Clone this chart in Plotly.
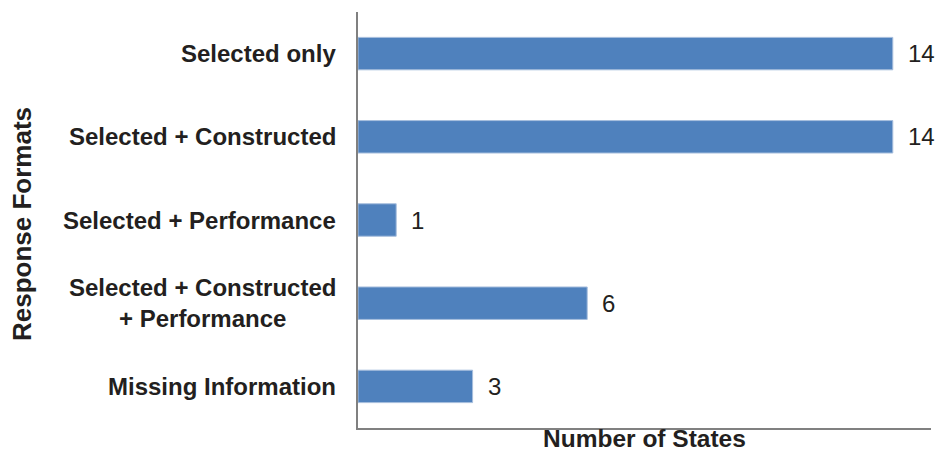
import plotly.graph_objects as go

# Response formats used in state assessments
categories = [
    "Selected only",
    "Selected + Constructed",
    "Selected + Performance",
    "Selected + Constructed<br>+ Performance",
    "Missing Information",
]
states = [14, 14, 1, 6, 3]

x_title = "Number of States"
y_title = "Response Formats"

BAR = "#4F81BD"
TEXT = "#231F20"
AXIS = "#808080"
FONT = "Liberation Sans, Arial, sans-serif"

fig = go.Figure(
    go.Bar(
        x=states,
        y=categories,
        orientation="h",
        marker=dict(color=BAR, line=dict(color="#A7BEDD", width=1)),
        hoverinfo="x+y",
    )
)

# category labels, centred line by line
for cat in categories:
    fig.add_annotation(
        x=0, xref="paper", y=cat, yref="y",
        text=cat, showarrow=False,
        xanchor="right", xshift=-20, align="center",
        font=dict(family=FONT, size=24, color=TEXT, weight="bold"),
    )

# value labels at bar ends
for cat, v in zip(categories, states):
    fig.add_annotation(
        x=v, xref="x", y=cat, yref="y",
        text=str(v), showarrow=False,
        xanchor="left", xshift=13,
        font=dict(family=FONT, size=24, color=TEXT),
    )

# axis titles
fig.add_annotation(
    x=0.5, xref="paper", y=0, yref="paper", yanchor="top", yshift=4,
    text=x_title, showarrow=False, borderpad=0,
    font=dict(family=FONT, size=24.5, color=TEXT, weight="bold"),
)
fig.add_annotation(
    x=0, xref="paper", xanchor="center", xshift=-336,
    y=0.5, yref="paper", yshift=-4, text=y_title, textangle=-90, showarrow=False,
    font=dict(family=FONT, size=26, color=TEXT, weight="bold"),
)

fig.update_layout(
    width=936, height=455,
    margin=dict(l=358, r=5, t=12, b=27),
    paper_bgcolor="white", plot_bgcolor="white",
    bargap=0.61,
    showlegend=False,
    font=dict(family=FONT, color=TEXT),
)
fig.update_xaxes(
    range=[0, 15.0], showticklabels=False, ticks="", showgrid=False,
    zeroline=False, showline=True, linecolor=AXIS, linewidth=2,
)
fig.update_yaxes(
    categoryorder="array", categoryarray=categories[::-1],
    showticklabels=False, ticks="", showgrid=False, zeroline=False,
    showline=True, linecolor=AXIS, linewidth=2,
)

fig.write_html("out.html")
